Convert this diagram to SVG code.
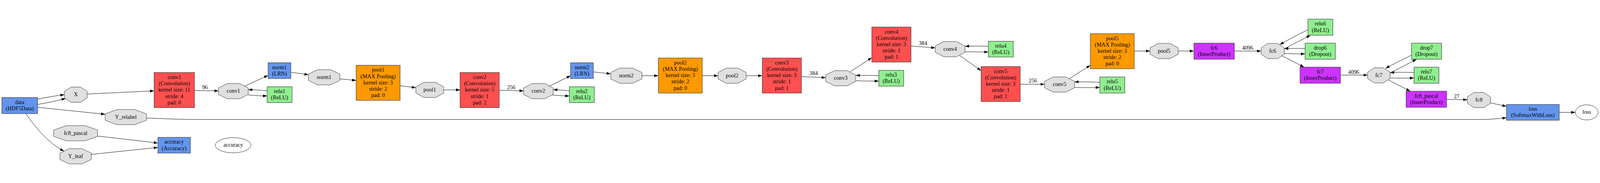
<svg xmlns="http://www.w3.org/2000/svg" width="5067" height="468" viewBox="0 0 5067 468" style="width:100%;height:100%" preserveAspectRatio="xMidYMid meet">
<style>
text{font-family:"Liberation Serif","Times New Roman",serif;font-size:17.5px;text-anchor:middle;fill:#000}
.box{stroke:#222;stroke-width:1.2}
.blue{fill:#6495ED}.red{fill:#FF5050}.orange{fill:#FF9900}.purple{fill:#CC33FF}.green{fill:#90EE90}
.blob{fill:#E0E0E0;stroke:#333;stroke-width:1.2}
.out{fill:#fff;stroke:#222;stroke-width:1.2}
.edges path{fill:none;stroke:#000;stroke-width:1.2;marker-end:url(#arr)}
</style>
<defs>
<marker id="arr" markerWidth="13" markerHeight="9" refX="13" refY="4.5" orient="auto" markerUnits="userSpaceOnUse"><path d="M0,0 L13,4.5 L0,9 z" fill="#000"/></marker>
</defs>
<rect width="5067" height="468" fill="#fff"/>
<g class="edges" id="connectors">
<path d="M119,258 C150,252 175,248 204,244"/>
<path d="M119,275 C150,270 180,263 208,256"/>
<path d="M119,284 L333,306"/>
<path d="M82,304 C110,345 150,395 203,423"/>
<path d="M276,242 L488,232"/>
<path d="M309,375 L500,397"/>
<path d="M289,433 L500,411"/>
<path d="M464,318 C540,321 580,322.5 640,322.5 L4690,322.5 C4720,322.5 4745,320 4771,317"/>
<path d="M616,231 L692,232"/>
<path d="M775,217 L849,183"/>
<path d="M846,232 C820,229 810,229 786,228"/>
<path d="M786,245 C810,247 825,248 846,248"/>
<path d="M921,173 L977,181"/>
<path d="M1076,194 L1128,199"/>
<path d="M1267,216 L1317,222"/>
<path d="M1405,229 L1457,229"/>
<path d="M1581,230 L1658,232"/>
<path d="M1740,217 L1807,184"/>
<path d="M1803,232 C1785,230 1770,229 1752,228"/>
<path d="M1749,245 C1770,247 1785,248 1803,248"/>
<path d="M1879,172 L1934,178"/>
<path d="M2033,184 L2085,184"/>
<path d="M2224,184 L2274,184"/>
<path d="M2363,184 L2414,184"/>
<path d="M2538,187 L2615,190"/>
<path d="M2692,172 L2761,127"/>
<path d="M2783,184 C2760,183 2735,183 2710,183"/>
<path d="M2710,200 C2735,201 2760,201 2783,201"/>
<path d="M2885,90 L2962,96"/>
<path d="M3130,91 C3105,90 3080,90 3056,91"/>
<path d="M3056,108 C3080,109 3105,109 3130,109"/>
<path d="M3039,120 L3107,168"/>
<path d="M3231,211 L3308,211"/>
<path d="M3387,193 L3453,151"/>
<path d="M3483,205 C3460,204 3430,203 3403,204"/>
<path d="M3403,221 C3430,222 3460,222 3483,221"/>
<path d="M3592,106 L3642,106"/>
<path d="M3731,106 L3781,106"/>
<path d="M3909,106 L3994,106"/>
<path d="M4142,39 C4110,54 4080,70 4053,86"/>
<path d="M4067,99 L4150,56"/>
<path d="M4133,98 C4110,97 4090,98 4067,98"/>
<path d="M4067,114 C4090,115 4110,115 4133,115"/>
<path d="M4060,121 L4130,157"/>
<path d="M4245,182 L4331,182"/>
<path d="M4470,119 C4440,134 4410,148 4388,161"/>
<path d="M4402,176 L4486,132"/>
<path d="M4478,174 C4455,173 4430,173 4402,174"/>
<path d="M4402,191 C4425,192 4455,192 4478,191"/>
<path d="M4396,197 L4466,233"/>
<path d="M4581,259 L4647,260"/>
<path d="M4720,270 L4771,281"/>
<path d="M4938,300 L4989,300"/>
<g id="edge-labels">
<text x="649" y="226">96</text>
<text x="1619" y="226">256</text>
<text x="2577" y="182">384</text>
<text x="2923" y="87">384</text>
<text x="3271" y="206">256</text>
<text x="3951" y="102">4096</text>
<text x="4287" y="178">4096</text>
<text x="4613" y="255">27</text>
</g>
</g>
<g id="data"><rect class="box blue" x="6" y="253" width="113" height="51"/><text x="62.5" y="273.5">data</text><text x="62.5" y="293.5">(HDF5Data)</text></g>
<g id="blob-X"><polygon class="blob" points="225,220 255,220 276,234 276,254 255,268 225,268 204,254 204,234"/><text x="240" y="249">X</text></g>
<g id="blob-Y_relabel"><polygon class="blob" points="371,291 426,291 464,305 464,325 426,339 371,339 333,325 333,305"/><text x="398.5" y="320">Y_relabel</text></g>
<g id="blob-fc8_pascal"><polygon class="blob" points="210,342 269,342 309,356 309,376 269,390 210,390 170,376 170,356"/><text x="239.5" y="371">fc8_pascal</text></g>
<g id="blob-Y_leaf"><polygon class="blob" points="219,415 260,415 289,429 289,449 260,463 219,463 190,449 190,429"/><text x="239.5" y="444">Y_leaf</text></g>
<g id="conv1"><rect class="box red" x="488" y="174" width="128" height="111"/><text x="552" y="194.5">conv1</text><text x="552" y="214.5">(Convolution)</text><text x="552" y="234.5">kernel size: 11</text><text x="552" y="254.5">stride: 4</text><text x="552" y="274.5">pad: 0</text></g>
<g id="accuracy"><rect class="box blue" x="500" y="379" width="103" height="50"/><text x="551.5" y="399">accuracy</text><text x="551.5" y="419">(Accuracy)</text></g>
<g id="out-accuracy"><ellipse class="out" cx="738.5" cy="404" rx="56.5" ry="24"/><text x="738.5" y="409">accuracy</text></g>
<g id="blob-conv1"><polygon class="blob" points="719,209 759,209 786,223 786,243 759,257 719,257 692,243 692,223"/><text x="739" y="238">conv1</text></g>
<g id="norm1"><rect class="box blue" x="849" y="143" width="72" height="50"/><text x="885" y="163">norm1</text><text x="885" y="183">(LRN)</text></g>
<g id="relu1"><rect class="box green" x="846" y="219" width="79" height="50"/><text x="885.5" y="239">relu1</text><text x="885.5" y="259">(ReLU)</text></g>
<g id="blob-norm1"><polygon class="blob" points="1006,165 1047,165 1076,179 1076,199 1047,213 1006,213 977,199 977,179"/><text x="1026.5" y="194">norm1</text></g>
<g id="pool1"><rect class="box orange" x="1128" y="151" width="139" height="111"/><text x="1197.5" y="171.5">pool1</text><text x="1197.5" y="191.5">(MAX Pooling)</text><text x="1197.5" y="211.5">kernel size: 3</text><text x="1197.5" y="231.5">stride: 2</text><text x="1197.5" y="251.5">pad: 0</text></g>
<g id="blob-pool1"><polygon class="blob" points="1343,205 1379,205 1405,219 1405,239 1379,253 1343,253 1317,239 1317,219"/><text x="1361" y="234">pool1</text></g>
<g id="conv2"><rect class="box red" x="1457" y="174" width="124" height="111"/><text x="1519" y="194.5">conv2</text><text x="1519" y="214.5">(Convolution)</text><text x="1519" y="234.5">kernel size: 5</text><text x="1519" y="254.5">stride: 1</text><text x="1519" y="274.5">pad: 2</text></g>
<g id="blob-conv2"><polygon class="blob" points="1685,209 1725,209 1752,223 1752,243 1725,257 1685,257 1658,243 1658,223"/><text x="1705" y="238">conv2</text></g>
<g id="norm2"><rect class="box blue" x="1807" y="143" width="72" height="50"/><text x="1843" y="163">norm2</text><text x="1843" y="183">(LRN)</text></g>
<g id="relu2"><rect class="box green" x="1803" y="219" width="79" height="50"/><text x="1842.5" y="239">relu2</text><text x="1842.5" y="259">(ReLU)</text></g>
<g id="blob-norm2"><polygon class="blob" points="1963,160 2004,160 2033,174 2033,194 2004,208 1963,208 1934,194 1934,174"/><text x="1983.5" y="189">norm2</text></g>
<g id="pool2"><rect class="box orange" x="2085" y="128" width="139" height="111"/><text x="2154.5" y="148.5">pool2</text><text x="2154.5" y="168.5">(MAX Pooling)</text><text x="2154.5" y="188.5">kernel size: 3</text><text x="2154.5" y="208.5">stride: 2</text><text x="2154.5" y="228.5">pad: 0</text></g>
<g id="blob-pool2"><polygon class="blob" points="2300,160 2337,160 2363,174 2363,194 2337,208 2300,208 2274,194 2274,174"/><text x="2318.5" y="189">pool2</text></g>
<g id="conv3"><rect class="box red" x="2414" y="128" width="124" height="111"/><text x="2476" y="148.5">conv3</text><text x="2476" y="168.5">(Convolution)</text><text x="2476" y="188.5">kernel size: 3</text><text x="2476" y="208.5">stride: 1</text><text x="2476" y="228.5">pad: 1</text></g>
<g id="blob-conv3"><polygon class="blob" points="2643,168 2682,168 2710,182 2710,202 2682,216 2643,216 2615,202 2615,182"/><text x="2662.5" y="197">conv3</text></g>
<g id="conv4"><rect class="box red" x="2761" y="30" width="124" height="111"/><text x="2823" y="50.5">conv4</text><text x="2823" y="70.5">(Convolution)</text><text x="2823" y="90.5">kernel size: 3</text><text x="2823" y="110.5">stride: 1</text><text x="2823" y="130.5">pad: 1</text></g>
<g id="relu3"><rect class="box green" x="2783" y="167" width="79" height="50"/><text x="2822.5" y="187">relu3</text><text x="2822.5" y="207">(ReLU)</text></g>
<g id="blob-conv4"><polygon class="blob" points="2989,76 3029,76 3056,90 3056,110 3029,124 2989,124 2962,110 2962,90"/><text x="3009" y="105">conv4</text></g>
<g id="relu4"><rect class="box green" x="3130" y="75" width="79" height="50"/><text x="3169.5" y="95">relu4</text><text x="3169.5" y="115">(ReLU)</text></g>
<g id="conv5"><rect class="box red" x="3107" y="155" width="124" height="111"/><text x="3169" y="175.5">conv5</text><text x="3169" y="195.5">(Convolution)</text><text x="3169" y="215.5">kernel size: 3</text><text x="3169" y="235.5">stride: 1</text><text x="3169" y="255.5">pad: 1</text></g>
<g id="blob-conv5"><polygon class="blob" points="3336,188 3375,188 3403,202 3403,222 3375,236 3336,236 3308,222 3308,202"/><text x="3355.5" y="217">conv5</text></g>
<g id="pool5"><rect class="box orange" x="3453" y="51" width="139" height="111"/><text x="3522.5" y="71.5">pool5</text><text x="3522.5" y="91.5">(MAX Pooling)</text><text x="3522.5" y="111.5">kernel size: 3</text><text x="3522.5" y="131.5">stride: 2</text><text x="3522.5" y="151.5">pad: 0</text></g>
<g id="relu5"><rect class="box green" x="3483" y="188" width="79" height="51"/><text x="3522.5" y="208.5">relu5</text><text x="3522.5" y="228.5">(ReLU)</text></g>
<g id="blob-pool5"><polygon class="blob" points="3668,82 3705,82 3731,96 3731,116 3705,130 3668,130 3642,116 3642,96"/><text x="3686.5" y="111">pool5</text></g>
<g id="fc6"><rect class="box purple" x="3781" y="81" width="128" height="51"/><text x="3845" y="101.5">fc6</text><text x="3845" y="121.5">(InnerProduct)</text></g>
<g id="blob-fc6"><polygon class="blob" points="4015,82 4046,82 4067,96 4067,116 4046,130 4015,130 3994,116 3994,96"/><text x="4030.5" y="111">fc6</text></g>
<g id="relu6"><rect class="box green" x="4142" y="5" width="79" height="51"/><text x="4181.5" y="25.5">relu6</text><text x="4181.5" y="45.5">(ReLU)</text></g>
<g id="drop6"><rect class="box green" x="4133" y="81" width="96" height="51"/><text x="4181" y="101.5">drop6</text><text x="4181" y="121.5">(Dropout)</text></g>
<g id="fc7"><rect class="box purple" x="4117" y="157" width="128" height="51"/><text x="4181" y="177.5">fc7</text><text x="4181" y="197.5">(InnerProduct)</text></g>
<g id="blob-fc7"><polygon class="blob" points="4352,159 4381,159 4402,173 4402,193 4381,207 4352,207 4331,193 4331,173"/><text x="4366.5" y="188">fc7</text></g>
<g id="drop7"><rect class="box green" x="4470" y="81" width="95" height="51"/><text x="4517.5" y="101.5">drop7</text><text x="4517.5" y="121.5">(Dropout)</text></g>
<g id="relu7"><rect class="box green" x="4478" y="157" width="79" height="51"/><text x="4517.5" y="177.5">relu7</text><text x="4517.5" y="197.5">(ReLU)</text></g>
<g id="fc8_pascal"><rect class="box purple" x="4453" y="233" width="128" height="51"/><text x="4517" y="253.5">fc8_pascal</text><text x="4517" y="273.5">(InnerProduct)</text></g>
<g id="blob-fc8"><polygon class="blob" points="4668,237 4699,237 4720,251 4720,271 4699,285 4668,285 4647,271 4647,251"/><text x="4683.5" y="266">fc8</text></g>
<g id="loss"><rect class="box blue" x="4771" y="275" width="167" height="50"/><text x="4854.5" y="295">loss</text><text x="4854.5" y="315">(SoftmaxWithLoss)</text></g>
<g id="out-loss"><ellipse class="out" cx="5025" cy="300" rx="36" ry="24"/><text x="5025" y="305">loss</text></g>
</svg>
